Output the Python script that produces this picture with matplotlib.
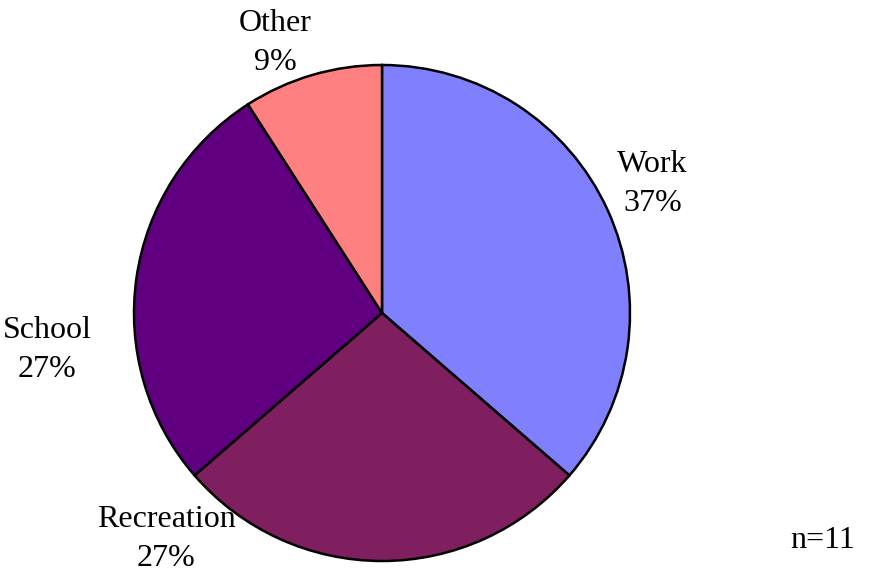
import matplotlib
matplotlib.use("Agg")
import matplotlib.pyplot as plt

categories = ["Work", "Recreation", "School", "Other"]
counts = [4, 3, 3, 1]
pct_labels = ["37%", "27%", "27%", "9%"]
colors = ["#8080FF", "#7F1F5F", "#600080", "#FF8080"]
# label anchor positions in pie data units (radius = 1)
label_pos = [(1.09, 0.52), (-0.87, -0.91), (-1.35, -0.15), (-0.43, 1.09)]

plt.rcParams['font.family'] = ['Liberation Serif', 'DejaVu Serif']

fig = plt.figure(figsize=(8.72, 5.71), dpi=100)
cx, cy, r = 382 / 872, (571 - 313) / 571, 248
ax = fig.add_axes([cx - r / 872, cy - r / 571, 2 * r / 872, 2 * r / 571])
ax.pie(counts, colors=colors, startangle=90, counterclock=False,
       wedgeprops=dict(edgecolor="black", linewidth=1.8), radius=1)
ax.set_xlim(-1, 1)
ax.set_ylim(-1, 1)
ax.set_aspect('equal')
ax.axis('off')

for cat, pct, (x, y) in zip(categories, pct_labels, label_pos):
    ax.text(x, y, f"{cat}\n{pct}", ha="center", va="center", fontsize=23,
            linespacing=1.45, clip_on=False)

fig.text(823 / 872, 1 - 540 / 571, "n=11", ha="center", va="center", fontsize=23)

fig.savefig("out.png", dpi=100)
